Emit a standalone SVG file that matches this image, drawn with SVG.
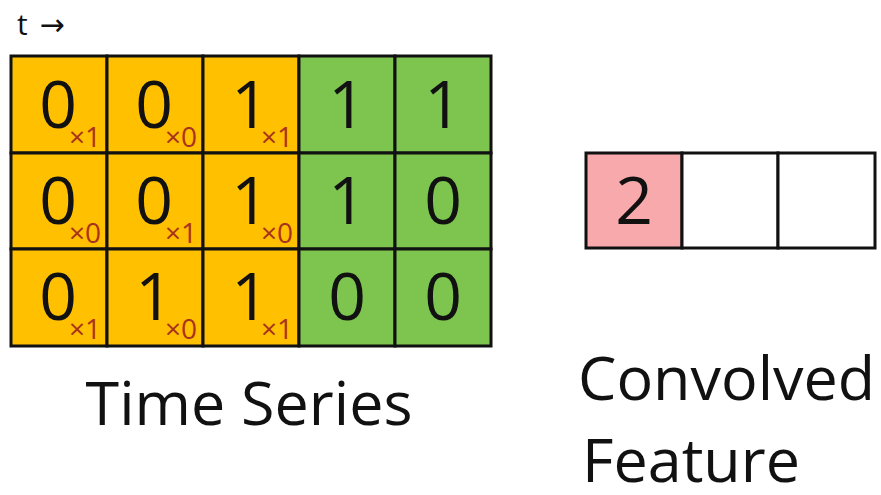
<svg xmlns="http://www.w3.org/2000/svg" width="881" height="495" viewBox="0 0 881 495">
<style>
.o{fill:#FFC000;stroke:#111;stroke-width:3}
.g{fill:#7DC54F;stroke:#111;stroke-width:3}
.w{fill:#fff;stroke:#111;stroke-width:3}
.p{fill:#F7A9AC;stroke:#111;stroke-width:3}
.d{font-family:"Open Sans","Liberation Sans",sans-serif;font-size:66px;fill:#111;text-anchor:middle}
.s{font-family:"Open Sans","Liberation Sans",sans-serif;font-size:28px;fill:#A8321E}
.l{font-family:"Open Sans","Liberation Sans",sans-serif;font-size:61px;fill:#111}
</style>
<rect width="881" height="495" fill="#fff"/>
<text x="17" y="35" font-family="Open Sans, Liberation Sans, sans-serif" font-size="30" fill="#111">t <tspan dx="4" font-family="DejaVu Sans, sans-serif" font-size="30">→</tspan></text>
<g id="time-series">
<rect class="o" x="11" y="56" width="96" height="97"/>
<rect class="o" x="107" y="56" width="96" height="97"/>
<rect class="o" x="203" y="56" width="96" height="97"/>
<rect class="g" x="299" y="56" width="96" height="97"/>
<rect class="g" x="395" y="56" width="96" height="97"/>
<rect class="o" x="11" y="153" width="96" height="96"/>
<rect class="o" x="107" y="153" width="96" height="96"/>
<rect class="o" x="203" y="153" width="96" height="96"/>
<rect class="g" x="299" y="153" width="96" height="96"/>
<rect class="g" x="395" y="153" width="96" height="96"/>
<rect class="o" x="11" y="249" width="96" height="97"/>
<rect class="o" x="107" y="249" width="96" height="97"/>
<rect class="o" x="203" y="249" width="96" height="97"/>
<rect class="g" x="299" y="249" width="96" height="97"/>
<rect class="g" x="395" y="249" width="96" height="97"/>
<text class="d" x="58" y="128">0</text>
<text class="d" x="154" y="128">0</text>
<text class="d" x="250" y="128">1</text>
<text class="d" x="347" y="128">1</text>
<text class="d" x="443" y="128">1</text>
<text class="d" x="58" y="224">0</text>
<text class="d" x="154" y="224">0</text>
<text class="d" x="250" y="224">1</text>
<text class="d" x="347" y="224">1</text>
<text class="d" x="443" y="224">0</text>
<text class="d" x="58" y="320">0</text>
<text class="d" x="154" y="320">1</text>
<text class="d" x="250" y="320">1</text>
<text class="d" x="347" y="320">0</text>
<text class="d" x="443" y="320">0</text>
<text class="s" x="69" y="147">×1</text>
<text class="s" x="165" y="147">×0</text>
<text class="s" x="261" y="147">×1</text>
<text class="s" x="69" y="243">×0</text>
<text class="s" x="165" y="243">×1</text>
<text class="s" x="261" y="243">×0</text>
<text class="s" x="69" y="339">×1</text>
<text class="s" x="165" y="339">×0</text>
<text class="s" x="261" y="339">×1</text>
<text class="l" x="249" y="425" text-anchor="middle">Time Series</text>
</g>
<g id="convolved-feature">
<rect class="p" x="586" y="153" width="96" height="95"/>
<rect class="w" x="682" y="153" width="96" height="95"/>
<rect class="w" x="778" y="153" width="97" height="95"/>
<text class="d" x="634" y="224">2</text>
<text class="l" x="578" y="400">Convolved</text>
<text class="l" x="582" y="482">Feature</text>
</g>
</svg>
